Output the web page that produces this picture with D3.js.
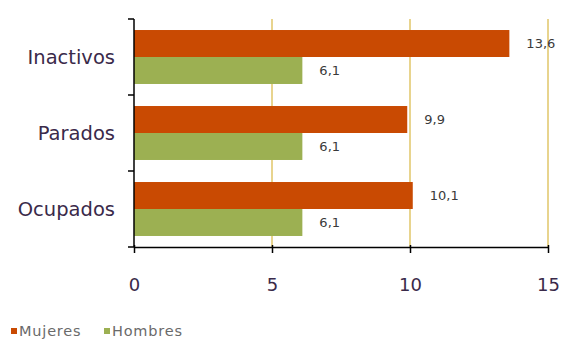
<!doctype html>
<html>
  <head>
    <script src="https://cdnjs.cloudflare.com/ajax/libs/d3/7.8.5/d3.min.js"></script>
    <style>
      body { margin: 0; background: #fff; }
      text { font-family: "DejaVu Sans", sans-serif; }
    </style>
  </head>
  <body>
    <svg></svg>
    <script>
      var categories = ["Inactivos", "Parados", "Ocupados"];
      var series = ["Mujeres", "Hombres"];
      var mujeres = [13.6, 9.9, 10.1];
      var hombres = [6.1, 6.1, 6.1];
      var xTicks = [0, 5, 10, 15];
      var colors = ["#c94a02", "#9cb052"];

      var width = 565, height = 341;
      var plotL = 134, plotR = 548, plotT = 19, plotB = 247;

      var svg = d3.select("svg").attr("width", width).attr("height", height);

      var x = d3.scaleLinear().domain([0, 15]).range([plotL, plotR]);
      var y = d3.scaleBand().domain(categories).range([plotT, plotB]).paddingInner(0.29).paddingOuter(0.145);
      var ySub = d3.scaleBand().domain(series).range([0, y.bandwidth()]);

      // gridlines
      svg.selectAll("line.grid").data(xTicks.slice(1))
        .enter().append("line")
          .attr("x1", d => x(d)).attr("x2", d => x(d))
          .attr("y1", plotT).attr("y2", plotB)
          .style("stroke", "#e8d48e").style("stroke-width", 2);

      // bars
      var data = [];
      categories.forEach(function(c, i) {
        data.push({cat: c, s: "Mujeres", v: mujeres[i]});
        data.push({cat: c, s: "Hombres", v: hombres[i]});
      });

      svg.selectAll("rect.bar").data(data)
        .enter().append("rect")
          .attr("x", x(0))
          .attr("y", d => y(d.cat) + ySub(d.s))
          .attr("width", d => x(d.v) - x(0))
          .attr("height", ySub.bandwidth())
          .style("fill", d => colors[series.indexOf(d.s)]);

      svg.selectAll("text.val").data(data)
        .enter().append("text")
          .attr("x", d => x(d.v) + 17)
          .attr("y", d => y(d.cat) + ySub(d.s) + ySub.bandwidth() / 2)
          .attr("dy", "0.35em")
          .style("font-size", "13px")
          .style("fill", "#3a3a3a")
          .text(d => String(d.v.toFixed(1)).replace(".", ","));

      // x axis
      var xAxis = svg.append("g").attr("transform", "translate(0," + plotB + ")")
        .call(d3.axisBottom(x).tickValues(xTicks).tickSize(6).tickPadding(25).tickSizeOuter(0));
      xAxis.select(".domain").style("stroke", "#000").style("stroke-width", 1.5);
      xAxis.selectAll(".tick line").style("stroke", "#000").style("stroke-width", 1.5).attr("y1", -2);
      xAxis.selectAll("text").style("font-size", "18px").style("fill", "#3a2a4a")
        .style("font-family", "'DejaVu Sans', sans-serif");

      // y axis
      var edges = categories.map(c => y(c) - y.step() * y.paddingInner() / 2).concat([plotB]);
      edges[0] = plotT;
      svg.append("line").attr("x1", plotL).attr("x2", plotL).attr("y1", plotT).attr("y2", plotB)
        .style("stroke", "#000").style("stroke-width", 1.5);
      svg.selectAll("line.ytick").data(edges)
        .enter().append("line")
          .attr("x1", plotL - 6).attr("x2", plotL)
          .attr("y1", d => d).attr("y2", d => d)
          .style("stroke", "#000").style("stroke-width", 1.5);
      svg.selectAll("text.cat").data(categories)
        .enter().append("text")
          .attr("x", plotL - 19)
          .attr("y", d => y(d) + y.bandwidth() / 2)
          .attr("dy", "0.35em")
          .attr("text-anchor", "end")
          .style("font-size", "19.5px")
          .style("fill", "#3a2a4a")
          .text(d => d);

      // legend
      var leg = svg.selectAll("g.leg").data(series)
        .enter().append("g")
          .attr("transform", (d, i) => "translate(" + (11 + i * 93) + ",331)");
      leg.append("rect").attr("x", 0).attr("y", -3).attr("width", 6).attr("height", 6)
        .style("fill", (d, i) => colors[i]);
      leg.append("text").attr("x", 8).attr("y", 0).attr("dy", "0.36em")
        .style("font-size", "14.5px").style("letter-spacing", "0.8px")
        .style("fill", "#6a6a6a").text(d => d);
    </script>
  </body>
</html>
